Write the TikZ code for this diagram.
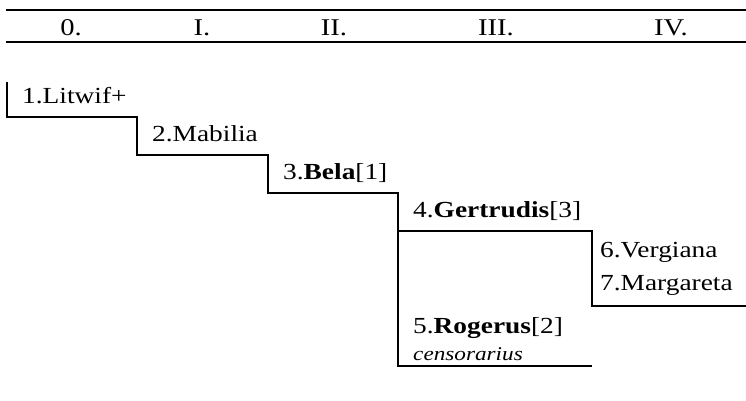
\documentclass[tikz,border=0pt]{standalone}
\usepackage{fontspec}
\setmainfont{Liberation Serif}[FakeStretch=1.19]
\tikzset{
	person/.style={anchor=base west,inner sep=0pt,font=\fontsize{23}{27}\selectfont},
	note/.style={anchor=base west,inner sep=0pt,font=\fontsize{19.5}{23}\selectfont\itshape},
	gen/.style={anchor=base,inner sep=0pt,font=\fontsize{24}{28}\selectfont},
	line/.style={line width=2pt},
	rule/.style={line width=2.2pt}
}
\begin{document}
\begin{tikzpicture}[x=1pt,y=-1pt]
		\useasboundingbox (0,0) rectangle (746,400);
		% generations
		\draw[rule] (6,10) -- (746,10);
		\draw[rule] (6,42) -- (746,42);
		\node[gen] (g0) at (71,35) {0.};
		\node[gen] (g1) at (202,35) {I.};
		\node[gen] (g2) at (334,35) {II.};
		\node[gen] (g3) at (496,35) {III.};
		\node[gen] (g4) at (671,35) {IV.};
		% corners of the steps
		\coordinate (top) at (7,82);
		\coordinate (s1) at (137,117);
		\coordinate (s2) at (268,155);
		\coordinate (s3) at (398,193);
		\coordinate (s4) at (592,231);
		\coordinate (e6) at (746,306);
		\coordinate (e5) at (592,366);
		% persons
		\node[person] (p1) at (22,103) {1.Litwif+};
		\node[person] (p2) at (152,141) {2.Mabilia};
		\node[person] (p3) at (283,179) {3.\textbf{Bela}[1]};
		\node[person] (p4) at (413,217) {4.\textbf{Gertrudis}[3]};
		\node[person] (p6) at (600,257) {6.Vergiana};
		\node[person] (p7) at (600,290) {7.Margareta};
		\node[person] (p5) at (413,333) {5.\textbf{Rogerus}[2]};
		\node[note] (n5) at (413,360) {censorarius};
		% lines
		\draw[line] (top) |- (s1) |- (s2) |- (s3) |- (s4) |- (e6);
		\draw[line] (s3) |- (e5);
	\end{tikzpicture}
\end{document}
